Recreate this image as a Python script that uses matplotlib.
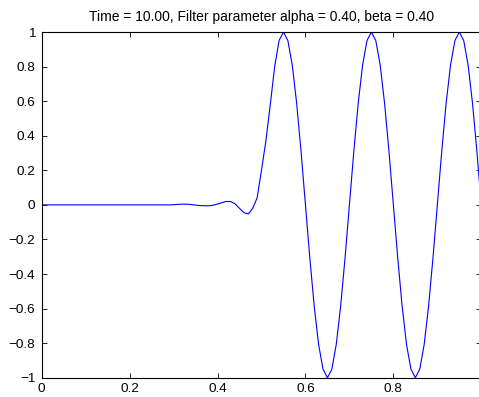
import matplotlib
matplotlib.use("Agg")
import matplotlib.pyplot as plt
import numpy as np

# sample positions (step 0.01 from 0 to 1)
x_start = 0.0
x_step = 0.01
# values
y_values = [
    0.0, 0.0, 0.0, 0.0, 0.0, 0.0, 0.0, 0.0, 0.0, 0.0,          # 0.00-0.09
    0.0, 0.0, 0.0, 0.0, 0.0, 0.0, 0.0, 0.0, 0.0, 0.0,          # 0.10-0.19
    0.0, 0.0, 0.0, 0.0, 0.0, 0.0, 0.0, 0.0, 0.0, 0.0,          # 0.20-0.29
    0.001, 0.003, 0.004, 0.004, 0.002, -0.001, -0.004, -0.005, -0.005, -0.002,  # 0.30-0.39
    0.005, 0.013, 0.02, 0.019, 0.006, -0.02, -0.045, -0.052, -0.02, 0.04,       # 0.40-0.49
    0.2, 0.37, 0.58, 0.80, 0.951, 1.0, 0.951, 0.809, 0.588, 0.309,               # 0.50-0.59
    0.0, -0.309, -0.588, -0.809, -0.951, -1.0, -0.951, -0.809, -0.588, -0.309,   # 0.60-0.69
    0.0, 0.309, 0.588, 0.809, 0.951, 1.0, 0.951, 0.809, 0.588, 0.309,            # 0.70-0.79
    0.0, -0.309, -0.588, -0.809, -0.951, -1.0, -0.951, -0.809, -0.588, -0.309,   # 0.80-0.89
    0.0, 0.309, 0.588, 0.809, 0.951, 1.0, 0.951, 0.809, 0.588, 0.309,            # 0.90-0.99
    0.0,                                                                          # 1.00
]
x_values = x_start + x_step * np.arange(len(y_values))

x_ticks = [0, 0.2, 0.4, 0.6, 0.8, 1.0]
x_tick_labels = ["0", "0.2", "0.4", "0.6", "0.8", "1"]
y_ticks = [-1, -0.8, -0.6, -0.4, -0.2, 0, 0.2, 0.4, 0.6, 0.8, 1]
y_tick_labels = ["\u22121", "\u22120.8", "\u22120.6", "\u22120.4", "\u22120.2", "0",
                 "0.2", "0.4", "0.6", "0.8", "1"]
title_text = "Time = 10.00, Filter parameter alpha = 0.40, beta = 0.40"

plt.rcParams['font.family'] = ['Liberation Sans', 'DejaVu Sans']

fig = plt.figure(figsize=(4.79, 3.97), dpi=100)
ax = fig.add_axes([0.087, 0.0486, 0.9178, 0.8706])
ax.plot(x_values, y_values, color=(0, 0, 1), linewidth=0.8)
ax.set_xlim(0, 1)
ax.set_ylim(-1, 1)
ax.set_xticks(x_ticks)
ax.set_xticklabels(x_tick_labels)
ax.set_yticks(y_ticks)
ax.set_yticklabels(y_tick_labels)
ax.tick_params(direction='in', length=3.6, width=0.6, top=True, right=True,
               labelsize=9.7, colors='black')
ax.tick_params(axis='x', pad=4)
ax.tick_params(axis='y', pad=4.5)
for s in ax.spines.values():
    s.set_linewidth(0.8)
ax.set_title(title_text, fontsize=10, pad=8)

fig.savefig("out.png", dpi=100)
